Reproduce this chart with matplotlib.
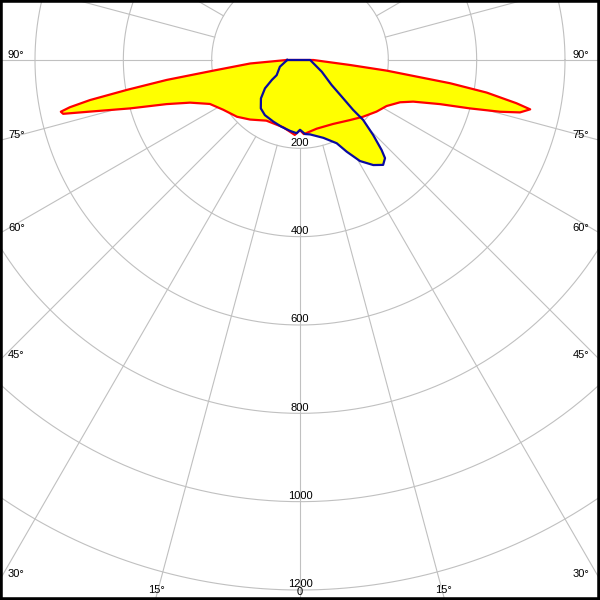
import numpy as np
import matplotlib
matplotlib.use("Agg")
import matplotlib.pyplot as plt

# ---- data: luminous intensity (cd) vs signed gamma angle (deg, 0 = nadir) ----
gamma_c0 = [-90, -86, -83, -81.5, -80.2, -79.2, -78.4, -77.8, -77.2, -76.2, -74.1,
            -71.7, -68.8, -64, -57, -48, -40, -29, -14, -4, 0, 3, 13.7, 27.3, 39.8,
            48, 56, 62, 67.1, 69.8, 72.5, 74.1, 75.5, 76.6, 77.9, 78.7, 80.1, 81.2,
            81.9, 83, 84.3, 90]
int_c0 = [30, 113, 198, 305, 398, 484, 532, 554, 550, 490, 400,
          318, 267, 227, 207, 192, 176, 157, 157, 170, 159, 168, 160, 163, 177,
          192, 209, 222, 246, 273, 332, 400, 468, 512, 533, 500, 429, 344,
          267, 198, 114, 30]

gamma_c90 = [-90, -71.5, -57, -54.7, -51, -45.5, -39, -32.5, -23.4, -15.3, -8, -2.6,
             0, 3.9, 7.7, 16.7, 23.8, 27, 30.7, 34.9, 38.4, 40.9, 42.2, 44.3, 46.5,
             46.8, 48.7, 51.7, 61.7, 90]
int_c90 = [29, 48, 63, 78, 102, 124, 141, 148, 152, 157, 162, 166,
           158, 168, 170, 184, 206, 233, 266, 290, 303, 294, 275, 237, 197,
           165, 126, 91, 56, 23]

ring_values = [200, 400, 600, 800, 1000, 1200]
angle_labels = [15, 30, 45, 60, 75, 90]

# ---- layout ----
K = 530.0 / 1200.0          # pixels per cd
W, H = 600, 600
CX, CY = 300, 60            # pole position in pixels (from top-left)


def px(dx, dy):
    """pixel offset from pole (dy downwards) -> data coords"""
    return dx / K, -dy / K


def to_xy(g, I):
    g = np.radians(np.asarray(g, float))
    I = np.asarray(I, float)
    return I * np.sin(g), -I * np.cos(g)


fig = plt.figure(figsize=(6, 6), dpi=100)
ax = fig.add_axes([0, 0, 1, 1])
ax.set_xlim(-CX / K, (W - CX) / K)
ax.set_ylim(-(H - CY) / K, CY / K)
ax.set_xticks([])
ax.set_yticks([])
for s in ax.spines.values():
    s.set_linewidth(4)
    s.set_color("black")
    s.set_zorder(10)

grid_c = "#c0c0c0"
t = np.linspace(0, 2 * np.pi, 721)
for r in ring_values:
    ax.plot(r * np.cos(t), r * np.sin(t), color=grid_c, lw=0.8, zorder=1)
for a in range(0, 360, 15):
    ar = np.radians(a)
    r0, r1 = ring_values[0], 4000
    ax.plot([r0 * np.sin(ar), r1 * np.sin(ar)], [-r0 * np.cos(ar), -r1 * np.cos(ar)],
            color=grid_c, lw=0.8, zorder=1)

# curves
x0, y0 = to_xy(gamma_c0, int_c0)
x9, y9 = to_xy(gamma_c90, int_c90)
ax.fill(x0, y0, color="#ffff00", lw=0, zorder=2)
ax.fill(x9, y9, color="#ffff00", lw=0, zorder=2)
ax.plot(np.append(x0, x0[0]), np.append(y0, y0[0]), color="#ff0000", lw=1.6, zorder=3)
ax.plot(np.append(x9, x9[0]), np.append(y9, y9[0]), color="#0a0aa0", lw=1.6, zorder=4)

fs = 8
fam = ["Liberation Sans", "DejaVu Sans"]
# ring labels
for r in ring_values:
    ax.text(0, -r + 2.5 / K, str(r), ha="center", va="baseline", fontsize=fs,
            family=fam, zorder=5)

# angle labels
for a in angle_labels:
    ar = np.radians(a)
    # exit at side?
    dy_side = (W - CX) * np.cos(ar) / np.sin(ar)
    if CY + dy_side <= H - 3:
        for sgn in (-1, 1):
            xx, yy = px(sgn * (CX - (8 if sgn < 0 else 11)), dy_side - 2.5)
            ax.text(xx, yy, f"{a}°", ha="left" if sgn < 0 else "right", va="baseline",
                    fontsize=fs, family=fam, zorder=5)
    else:
        dxb = (H - 3 - CY) * np.tan(ar)
        for sgn in (-1, 1):
            xx, yy = px(sgn * dxb, H - 7 - CY)
            ax.text(xx, yy, f"{a}°", ha="center", va="baseline", fontsize=fs,
                    family=fam, zorder=5)
xx, yy = px(0, H - 5 - CY)
ax.text(xx, yy, "0", ha="center", va="baseline", fontsize=fs, family=fam, zorder=5)

fig.savefig("out.png", dpi=100)
